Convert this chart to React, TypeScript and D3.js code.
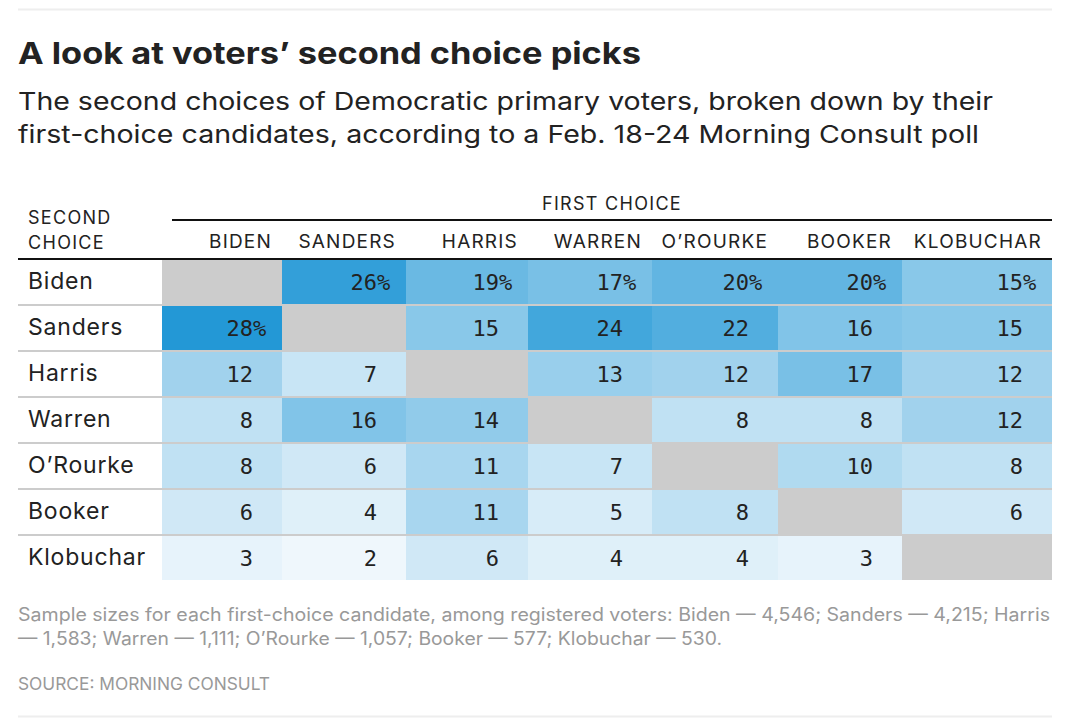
import React, { useEffect, useRef } from 'react';
import * as d3 from 'd3';

const firstChoice = ['BIDEN', 'SANDERS', 'HARRIS', 'WARREN', 'O’ROURKE', 'BOOKER', 'KLOBUCHAR'];
const secondChoice = ['Biden', 'Sanders', 'Harris', 'Warren', 'O’Rourke', 'Booker', 'Klobuchar'];

// rows = second choice, columns = first choice (null = same candidate)
const bidenRow = [null, 26, 19, 17, 20, 20, 15];
const sandersRow = [28, null, 15, 24, 22, 16, 15];
const harrisRow = [12, 7, null, 13, 12, 17, 12];
const warrenRow = [8, 16, 14, null, 8, 8, 12];
const orourkeRow = [8, 6, 11, 7, null, 10, 8];
const bookerRow = [6, 4, 11, 5, 8, null, 6];
const klobucharRow = [3, 2, 6, 4, 4, 3, null];
const rows: (number | null)[][] = [bidenRow, sandersRow, harrisRow, warrenRow, orourkeRow, bookerRow, klobucharRow];

// relative column widths (html table auto layout)
const colWeights = [120, 124, 122, 124, 126, 124, 150];

const W = 1076;
const H = 728;
const sans = 'Inter, "Noto Sans", sans-serif';
const mono = '"DejaVu Sans Mono", "Liberation Mono", monospace';

const Chart: React.FC = () => {
  const svgRef = useRef<SVGSVGElement>(null);

  useEffect(() => {
    if (!svgRef.current) return;
    const svg = d3.select(svgRef.current);
    svg.selectAll('*').remove();

    const left = 18;
    const right = 1052;
    const gridLeft = 162;

    // header block
    svg.append('line').attr('x1', left).attr('x2', right).attr('y1', 9.5).attr('y2', 9.5)
      .attr('stroke', '#eee').attr('stroke-width', 2);

    svg.append('text').attr('x', left).attr('y', 64)
      .attr('font-family', sans).attr('font-weight', 700).attr('font-size', 30)
      .attr('fill', '#222').attr('textLength', 623).attr('lengthAdjust', 'spacingAndGlyphs')
      .text('A look at voters’ second choice picks');

    const sub = [
      { t: 'The second choices of Democratic primary voters, broken down by their', w: 975 },
      { t: 'first-choice candidates, according to a Feb. 18-24 Morning Consult poll', w: 961 },
    ];
    svg.selectAll('text.sub').data(sub).enter().append('text')
      .attr('class', 'sub').attr('x', left).attr('y', (d, i) => 110 + i * 33)
      .attr('font-family', sans).attr('font-size', 24.5).attr('fill', '#222')
      .attr('textLength', (d) => d.w).attr('lengthAdjust', 'spacingAndGlyphs')
      .text((d) => d.t);

    // scales
    const cum = [0, ...d3.cumsum(colWeights)];
    const xScale = d3.scaleLinear().domain([0, cum[cum.length - 1]]).range([gridLeft, right]);
    const yScale = d3.scaleBand<string>().domain(secondChoice).range([258, 258 + 46 * secondChoice.length]);
    const color = d3.scaleLinear<string>().domain([2, 28]).range(['#eff7fc', '#2398d6']);

    // column header
    svg.append('text').attr('x', (172 + right) / 2).attr('y', 210).attr('text-anchor', 'middle')
      .attr('font-family', sans).attr('font-size', 18).attr('letter-spacing', 1.3)
      .attr('fill', '#222').text('FIRST CHOICE');
    svg.append('rect').attr('x', 172).attr('y', 219).attr('width', right - 172).attr('height', 2).attr('fill', '#111');

    ['SECOND', 'CHOICE'].forEach((t, i) => {
      svg.append('text').attr('x', 28).attr('y', 224 + i * 25)
        .attr('font-family', sans).attr('font-size', 18).attr('letter-spacing', 1.3)
        .attr('fill', '#222').text(t);
    });

    svg.selectAll('text.colhead').data(firstChoice).enter().append('text')
      .attr('class', 'colhead')
      .attr('x', (d, i) => xScale(cum[i + 1]) - 10).attr('y', 248)
      .attr('text-anchor', 'end')
      .attr('font-family', sans).attr('font-size', 19).attr('letter-spacing', 1.2)
      .attr('fill', '#222')
      .text((d) => d);

    // cells
    const cells = rows.flatMap((r, ri) => r.map((v, ci) => ({ ri, ci, v })));
    const firstNumeric = firstChoice.map((_, ci) => rows.findIndex((r) => r[ci] !== null));

    svg.selectAll('rect.cell').data(cells).enter().append('rect')
      .attr('class', 'cell')
      .attr('x', (d) => xScale(cum[d.ci]))
      .attr('width', (d) => xScale(cum[d.ci + 1]) - xScale(cum[d.ci]))
      .attr('y', (d) => (yScale(secondChoice[d.ri]) as number) + 2)
      .attr('height', yScale.bandwidth() - 2)
      .attr('fill', (d) => (d.v === null ? '#cccccc' : color(d.v)));

    const numbered = cells.filter((d) => d.v !== null);
    svg.selectAll('text.val').data(numbered).enter().append('text')
      .attr('class', 'val')
      .attr('x', (d) => xScale(cum[d.ci + 1]) - 29)
      .attr('y', (d) => (yScale(secondChoice[d.ri]) as number) + 32)
      .attr('text-anchor', 'end')
      .attr('font-family', mono).attr('font-size', 22)
      .attr('fill', '#222').text((d) => String(d.v));

    svg.selectAll('text.pct').data(numbered.filter((d) => firstNumeric[d.ci] === d.ri)).enter().append('text')
      .attr('class', 'pct')
      .attr('x', (d) => xScale(cum[d.ci + 1]) - 29)
      .attr('y', (d) => (yScale(secondChoice[d.ri]) as number) + 32)
      .attr('font-family', mono).attr('font-size', 22)
      .attr('fill', '#222').text('%');

    // row labels and separators
    svg.selectAll('text.rowlab').data(secondChoice).enter().append('text')
      .attr('class', 'rowlab').attr('x', 28)
      .attr('y', (d) => (yScale(d) as number) + 31)
      .attr('font-family', sans).attr('font-size', 23).attr('letter-spacing', 0.8)
      .attr('fill', '#222')
      .text((d) => d);

    svg.selectAll('rect.sep').data(secondChoice.slice(1)).enter().append('rect')
      .attr('class', 'sep').attr('x', left).attr('width', right - left)
      .attr('y', (d) => yScale(d) as number).attr('height', 2).attr('fill', '#ccc');

    svg.append('rect').attr('x', left).attr('y', 258).attr('width', right - left).attr('height', 2).attr('fill', '#111');

    // footer
    const notes = [
      { t: 'Sample sizes for each first-choice candidate, among registered voters: Biden — 4,546; Sanders — 4,215; Harris', w: 1032 },
      { t: '— 1,583; Warren — 1,111; O’Rourke — 1,057; Booker — 577; Klobuchar — 530.', w: 704 },
    ];
    svg.selectAll('text.note').data(notes).enter().append('text')
      .attr('class', 'note').attr('x', left).attr('y', (d, i) => 621 + i * 24)
      .attr('font-family', sans).attr('font-size', 18).attr('fill', '#999')
      .attr('textLength', (d) => d.w).attr('lengthAdjust', 'spacingAndGlyphs')
      .text((d) => d.t);

    svg.append('text').attr('x', left).attr('y', 690)
      .attr('font-family', sans).attr('font-size', 17).attr('fill', '#999')
      .attr('textLength', 252).attr('lengthAdjust', 'spacingAndGlyphs')
      .text('SOURCE: MORNING CONSULT');

    svg.append('line').attr('x1', left).attr('x2', right).attr('y1', 716.5).attr('y2', 716.5)
      .attr('stroke', '#eee').attr('stroke-width', 2);
  }, []);

  return (
    <svg ref={svgRef} width={W} height={H}
      style={{ position: 'absolute', left: 0, top: 0, background: '#fff' }} />
  );
};

export default function App() {
  return <Chart />;
}
